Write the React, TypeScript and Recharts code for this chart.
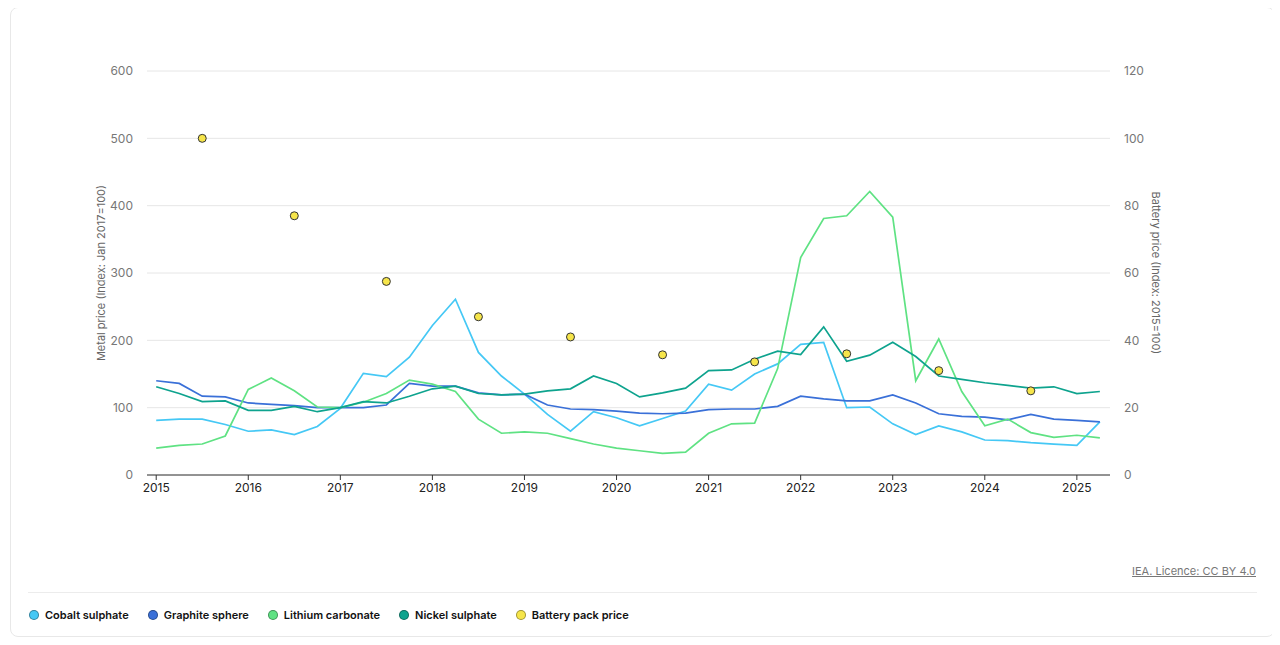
import { ComposedChart, Line, XAxis, YAxis, CartesianGrid } from 'recharts';

const years = [2015, 2016, 2017, 2018, 2019, 2020, 2021, 2022, 2023, 2024, 2025];

// quarterly, 2015 Q1 .. 2025 Q2
const cobalt = [
  81, 83, 83, 75, 65, 67, 60, 72, 99, 151, 146, 175, 222, 261, 182, 147,
  120, 90, 65, 94, 85, 73, 84, 95, 135, 126, 150, 165, 194, 197, 100, 101,
  76, 60, 73, 64, 52, 51, 48, 46, 44, 79,
];
const graphite = [
  140, 136, 117, 116, 107, 105, 103, 100, 100, 100, 104, 136, 132, 132, 122, 119,
  120, 104, 98, 97, 95, 92, 91, 92, 97, 98, 98, 102, 117, 113, 110, 110,
  119, 107, 91, 87, 86, 82, 90, 83, 81, 79,
];
const lithium = [
  40, 44, 46, 58, 127, 144, 125, 101, 100, 108, 121, 141, 135, 124, 83, 62,
  64, 62, 54, 46, 40, 36, 32, 34, 62, 76, 77, 158, 323, 381, 385, 421,
  383, 140, 202, 124, 73, 83, 63, 56, 59, 55,
];
const nickel = [
  131, 121, 109, 110, 96, 96, 102, 94, 100, 109, 107, 117, 128, 132, 121, 119,
  120, 125, 128, 147, 136, 116, 122, 129, 155, 156, 172, 184, 179, 220, 169, 178,
  197, 176, 147, 142, 137, 133, 129, 131, 121, 124,
];
// mid-year values
const batteryYears = [2015, 2016, 2017, 2018, 2019, 2020, 2021, 2022, 2023, 2024];
const battery = [100, 77, 57.5, 47, 41, 35.7, 33.6, 36, 31, 25];

const leftTicks = [0, 100, 200, 300, 400, 500, 600];
const rightTicks = [0, 20, 40, 60, 80, 100, 120];

const colors = {
  cobalt: '#45c8f5',
  graphite: '#3a70d8',
  lithium: '#5fe283',
  nickel: '#0ea38e',
  battery: '#f6e54a',
};

const data = cobalt.map((_, i) => {
  const t = 2015 + i / 4;
  const b = batteryYears.indexOf(t - 0.5);
  return {
    t,
    cobalt: cobalt[i],
    graphite: graphite[i],
    lithium: lithium[i],
    nickel: nickel[i],
    battery: b >= 0 ? battery[b] : null,
  };
});

const legend = [
  { name: 'Cobalt sulphate', color: colors.cobalt },
  { name: 'Graphite sphere', color: colors.graphite },
  { name: 'Lithium carbonate', color: colors.lithium },
  { name: 'Nickel sulphate', color: colors.nickel },
  { name: 'Battery pack price', color: colors.battery },
];

const font = 'Inter, "Noto Sans", sans-serif';

export default function App() {
  return (
    <div style={{ position: 'relative', width: 1264, height: 629, fontFamily: font }}>
      <div
        style={{
          position: 'absolute', left: 2, top: -1, width: 1263, height: 628,
          border: '1px solid #e8e8e8', borderRadius: 8,
        }}
      />
      <div style={{ position: 'absolute', left: -8, top: -8 }}>
        <ComposedChart width={1280} height={520} data={data}
          margin={{ top: 71, right: 110, left: 87, bottom: 15 }}>
          <CartesianGrid vertical={false} stroke="#e6e6e6" yAxisId="left" />
          <XAxis dataKey="t" type="number" domain={[2014.9, 2025.36]} ticks={years}
            stroke="#333" tickSize={5} tickMargin={3}
            tick={{ fill: '#222', fontSize: 12, fontFamily: font }} height={30} />
          <YAxis yAxisId="left" domain={[0, 600]} ticks={leftTicks} width={60}
            axisLine={false} tickLine={false} tickMargin={8}
            tick={{ fill: '#777', fontSize: 12, fontFamily: font }} />
          <YAxis yAxisId="right" orientation="right" domain={[0, 120]} ticks={rightTicks} width={60}
            axisLine={false} tickLine={false} tickMargin={8}
            tick={{ fill: '#777', fontSize: 12, fontFamily: font }} />
          <Line yAxisId="left" dataKey="cobalt" stroke={colors.cobalt} strokeWidth={1.7} dot={false} isAnimationActive={false} />
          <Line yAxisId="left" dataKey="graphite" stroke={colors.graphite} strokeWidth={1.7} dot={false} isAnimationActive={false} />
          <Line yAxisId="left" dataKey="lithium" stroke={colors.lithium} strokeWidth={1.7} dot={false} isAnimationActive={false} />
          <Line yAxisId="left" dataKey="nickel" stroke={colors.nickel} strokeWidth={1.7} dot={false} isAnimationActive={false} />
          <Line yAxisId="right" dataKey="battery" stroke="none" strokeWidth={0}
            dot={{ r: 4, fill: colors.battery, stroke: '#333', strokeWidth: 1 }}
            activeDot={false} isAnimationActive={false} />
        </ComposedChart>
      </div>
      <div style={{
        position: 'absolute', left: 101 - 8 - 150, top: 273 - 8 - 8, width: 300, height: 16,
        transform: 'rotate(-90deg)', textAlign: 'center', fontSize: 11, color: '#666', lineHeight: '16px',
      }}>Metal price (Index: Jan 2017=100)</div>
      <div style={{
        position: 'absolute', left: 1156 - 8 - 150, top: 273 - 8 - 8, width: 300, height: 16,
        transform: 'rotate(90deg)', textAlign: 'center', fontSize: 11, color: '#666', lineHeight: '16px',
      }}>Battery price (Index: 2015=100)</div>
      <div style={{
        position: 'absolute', right: 1264 - 1256 + 8, top: 571 - 8 - 8, fontSize: 11, color: '#777',
        textDecoration: 'underline', lineHeight: '16px',
      }}>IEA. Licence: CC BY 4.0</div>
      <div style={{ position: 'absolute', left: 28 - 8, top: 592 - 8, width: 1229, height: 1, background: '#ececec' }} />
      <div style={{ position: 'absolute', left: 29 - 8, top: 615 - 8 - 8, height: 16, display: 'flex', alignItems: 'center' }}>
        {legend.map((l) => (
          <div key={l.name} style={{ display: 'flex', alignItems: 'center', marginRight: 19 }}>
            <span style={{
              width: 8, height: 8, borderRadius: '50%', background: l.color,
              border: '1px solid rgba(0,0,0,0.35)', marginRight: 6,
            }} />
            <span style={{ fontSize: 11, fontWeight: 600, color: '#111' }}>{l.name}</span>
          </div>
        ))}
      </div>
    </div>
  );
}
